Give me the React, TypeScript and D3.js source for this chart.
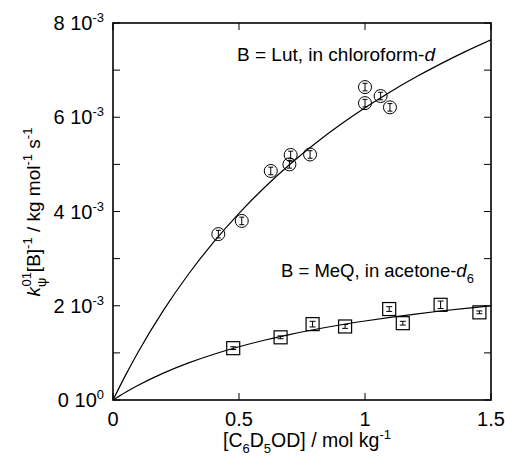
import React from "react";
import * as d3 from "d3";

// Data (y values in units of 1e-3 kg mol^-1 s^-1)
const lutX = [0.418, 0.511, 0.626, 0.700, 0.705, 0.782, 1.0, 1.0, 1.062, 1.099];
const lutY = [3.52, 3.80, 4.86, 5.00, 5.20, 5.21, 6.64, 6.30, 6.45, 6.21];
const lutErr = [0.08, 0.08, 0.08, 0.08, 0.08, 0.08, 0.08, 0.08, 0.08, 0.08];

const meqX = [0.477, 0.665, 0.792, 0.921, 1.096, 1.150, 1.300, 1.454];
const meqY = [1.10, 1.33, 1.61, 1.56, 1.93, 1.63, 2.02, 1.86];
const meqErr = [0.03, 0.03, 0.06, 0.04, 0.05, 0.04, 0.08, 0.03];

const fitX = [0, 0.05, 0.1, 0.2, 0.3, 0.4, 0.5, 0.6, 0.7, 0.8, 0.9, 1.0, 1.1, 1.2, 1.3, 1.4, 1.5];
const lutFitY = [0, 0.528, 1.019, 1.901, 2.674, 3.356, 3.962, 4.504, 4.992, 5.434, 5.835, 6.202, 6.538, 6.847, 7.132, 7.397, 7.642];
const meqFitY = [0, 0.164, 0.313, 0.571, 0.787, 0.971, 1.130, 1.268, 1.389, 1.496, 1.592, 1.677, 1.754, 1.824, 1.888, 1.946, 2.0];

const xTicks = [0, 0.5, 1, 1.5];
const xTickLabels = ["0", "0.5", "1", "1.5"];
const yTicks = [0, 1, 2, 3, 4, 5, 6, 7, 8];
const yLabelVals = [0, 2, 4, 6, 8];
const yLabelMant = ["0", "2", "4", "6", "8"];
const yLabelExp = ["0", "-3", "-3", "-3", "-3"];

const W = 505;
const H = 463;
const L = 113, R = 491, T = 23, B = 400;

export default function App() {
  const x = d3.scaleLinear().domain([0, 1.5]).range([L, R]);
  const y = d3.scaleLinear().domain([0, 8]).range([B, T]);
  const line = d3
    .line<number>()
    .x((_, i) => x(fitX[i]))
    .y((d) => y(d))
    .curve(d3.curveMonotoneX);
  const font = "Liberation Sans, Arial, sans-serif";
  const tl = 7;

  return (
    <svg
      width={W}
      height={H}
      style={{ position: "absolute", left: 0, top: 0, background: "#fff" }}
      fontFamily={font}
    >
      <rect x={0} y={0} width={W} height={H} fill="#fff" />
      <defs>
        <clipPath id="plot">
          <rect x={L} y={T} width={R - L} height={B - T} />
        </clipPath>
      </defs>
      {/* curves */}
      <g clipPath="url(#plot)" fill="none" stroke="#000" strokeWidth={1.2}>
        <path d={line(lutFitY) || ""} />
        <path d={line(meqFitY) || ""} />
      </g>
      {/* frame */}
      <rect x={L} y={T} width={R - L} height={B - T} fill="none" stroke="#000" strokeWidth={1.6} />
      {/* ticks */}
      <g stroke="#000" strokeWidth={1}>
        {yTicks.map((t) => (
          <g key={"y" + t}>
            <line x1={L} x2={L + tl} y1={y(t)} y2={y(t)} />
            <line x1={R} x2={R - tl} y1={y(t)} y2={y(t)} />
          </g>
        ))}
        {xTicks.map((t) => (
          <g key={"x" + t}>
            <line x1={x(t)} x2={x(t)} y1={B} y2={B - tl} />
            <line x1={x(t)} x2={x(t)} y1={T} y2={T + tl} />
          </g>
        ))}
      </g>
      {/* tick labels */}
      <g fontSize={20} fill="#000">
        {yLabelVals.map((v, i) => (
          <text key={"yl" + v} x={104} y={y(v) + 7} textAnchor="end">
            {yLabelMant[i]} 10
            <tspan fontSize={13} dy={-8}>
              {yLabelExp[i]}
            </tspan>
          </text>
        ))}
        {xTicks.map((t, i) => (
          <text key={"xl" + t} x={x(t)} y={426} textAnchor="middle">
            {xTickLabels[i]}
          </text>
        ))}
      </g>
      {/* x title */}
      <text x={307} y={447} textAnchor="middle" fontSize={19.5}>
        [C
        <tspan fontSize={13} dy={6}>6</tspan>
        <tspan dy={-6}>D</tspan>
        <tspan fontSize={13} dy={6}>5</tspan>
        <tspan dy={-6}>OD] / mol kg</tspan>
        <tspan fontSize={13} dy={-8}>-1</tspan>
      </text>
      {/* y title */}
      <text transform="translate(40,212) rotate(-90)" textAnchor="middle" fontSize={19}>
        <tspan fontStyle="italic">k</tspan>
        <tspan fontSize={13} dy={6}>ψ</tspan>
        <tspan fontSize={13} dx={-9} dy={-15}>01</tspan>
        <tspan dy={9}>[B]</tspan>
        <tspan fontSize={13} dy={-8}>-1</tspan>
        <tspan dy={8}> / kg mol</tspan>
        <tspan fontSize={13} dy={-8}>-1</tspan>
        <tspan dy={8}> s</tspan>
        <tspan fontSize={13} dy={-8}>-1</tspan>
      </text>
      {/* annotations */}
      <text x={237} y={61} fontSize={19}>
        B = Lut, in chloroform-<tspan fontStyle="italic">d</tspan>
      </text>
      <text x={281} y={277} fontSize={18.5}>
        B = MeQ, in acetone-<tspan fontStyle="italic">d</tspan>
        <tspan fontSize={13} dy={6}>6</tspan>
      </text>
      {/* Lut points */}
      <g fill="none" stroke="#000" strokeWidth={1}>
        {lutX.map((xv, i) => {
          const cx = x(xv), cy = y(lutY[i]);
          const e1 = y(lutY[i] + lutErr[i]), e2 = y(lutY[i] - lutErr[i]);
          return (
            <g key={"lut" + i}>
              <circle cx={cx} cy={cy} r={6.5} />
              <line x1={cx} x2={cx} y1={e1} y2={e2} />
              <line x1={cx - 2.5} x2={cx + 2.5} y1={e1} y2={e1} />
              <line x1={cx - 2.5} x2={cx + 2.5} y1={e2} y2={e2} />
            </g>
          );
        })}
      </g>
      {/* MeQ points */}
      <g fill="none" stroke="#000" strokeWidth={1.2}>
        {meqX.map((xv, i) => {
          const cx = x(xv), cy = y(meqY[i]);
          const e1 = y(meqY[i] + meqErr[i]), e2 = y(meqY[i] - meqErr[i]);
          return (
            <g key={"meq" + i}>
              <rect x={cx - 6.5} y={cy - 6.5} width={13} height={13} />
              <line x1={cx} x2={cx} y1={e1} y2={e2} strokeWidth={1} />
              <line x1={cx - 3} x2={cx + 3} y1={e1} y2={e1} strokeWidth={1} />
              <line x1={cx - 3} x2={cx + 3} y1={e2} y2={e2} strokeWidth={1} />
            </g>
          );
        })}
      </g>
    </svg>
  );
}
